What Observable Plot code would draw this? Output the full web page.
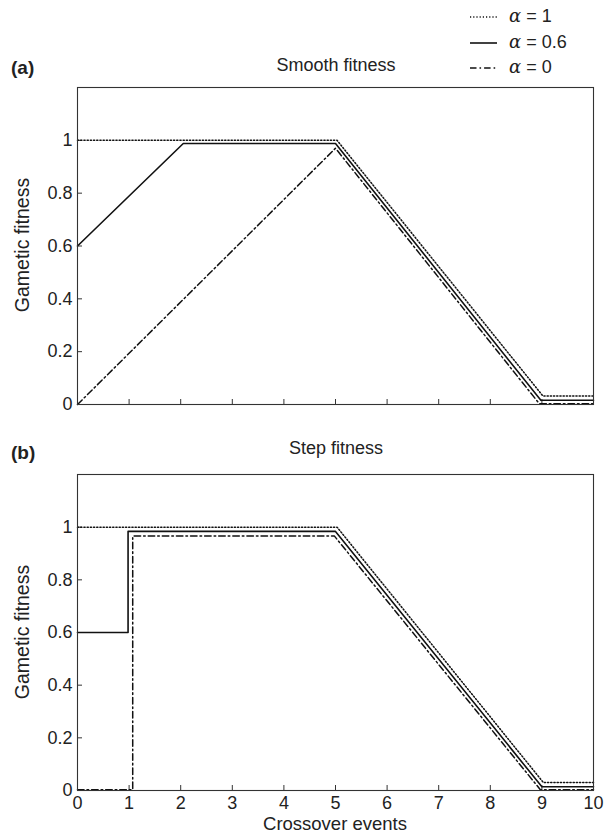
<!DOCTYPE html>
<html><head><meta charset="utf-8">
<script src="https://cdn.jsdelivr.net/npm/d3@7"></script>
<script src="https://cdn.jsdelivr.net/npm/@observablehq/plot@0.6"></script>
<style>
body{margin:0;background:#fff;font-family:"Liberation Sans",Arial,sans-serif;color:#222}
#wrap{position:relative;width:611px;height:837px;overflow:hidden}
.t{position:absolute;font-size:18px;white-space:nowrap;line-height:1}
.plot{position:absolute;left:0}
</style></head><body><div id="wrap"></div>
<script>
// ---- data ----
const xTicks = [0,1,2,3,4,5,6,7,8,9,10];
const yTicks = [0,0.2,0.4,0.6,0.8,1];
const yTickLabels = ["0","0.2","0.4","0.6","0.8","1"];
const seriesNames = ["α = 1","α = 0.6","α = 0"];
const seriesAlpha = ["1","0.6","0"];

// Panel (a) Smooth fitness
const smoothA1X  = [0, 5.03, 9.02, 10];
const smoothA1Y  = [1, 1, 0.032, 0.032];
const smoothA06X = [0, 2.05, 5.0, 8.98, 10];
const smoothA06Y = [0.6, 0.988, 0.988, 0.016, 0.016];
const smoothA0X  = [0, 5.0, 8.95, 10];
const smoothA0Y  = [0, 0.97, 0.003, 0.003];

// Panel (b) Step fitness
const stepA1X  = [0, 5.03, 9.03, 10];
const stepA1Y  = [1, 1, 0.03, 0.03];
const stepA06X = [0, 0.98, 0.98, 5.0, 9.0, 10];
const stepA06Y = [0.6, 0.6, 0.984, 0.984, 0.014, 0.014];
const stepA0X  = [0, 1.07, 1.07, 4.98, 8.97, 10];
const stepA0Y  = [0.003, 0.003, 0.966, 0.966, 0.003, 0.003];

// ---- helpers ----
const styles = {
  "1":   {strokeWidth: 1.5, strokeDasharray: "1.2,2"},
  "0.6": {strokeWidth: 1.6, strokeDasharray: null},
  "0":   {strokeWidth: 1.5, strokeDasharray: "6.5,3,1.6,3"}
};
function rows(xs, ys){ return xs.map((x,i)=>({x, y: ys[i]})); }
const wrap = document.getElementById("wrap");
function addText(txt, x, y, opts={}){
  const d = document.createElement("div");
  d.className = "t";
  d.textContent = txt;
  d.style.left = x + "px"; d.style.top = y + "px";
  Object.assign(d.style, opts);
  wrap.appendChild(d);
  return d;
}

function panel(series, top, height, mTop, mBottom, showXLabels){
  const marks = [
    Plot.axisY({ticks: yTicks, tickSize: -5, fill: "none", stroke: "#333", label: null}),
    Plot.axisY({ticks: yTicks, tickSize: 0, tickPadding: 5, stroke: "none", fill: "#222",
                tickFormat: d => yTickLabels[yTicks.indexOf(d)], label: null}),
    Plot.axisX({ticks: xTicks, tickSize: -5, fill: "none", stroke: "#333", label: null}),
  ];
  if (showXLabels) marks.push(Plot.axisX({ticks: xTicks, tickSize: 0, tickPadding: 6, stroke: "none", fill: "#222", tickFormat: d => String(d), label: null}));
  for (const s of series) {
    marks.push(Plot.line(rows(s.x, s.y), {x: "x", y: "y", stroke: "#111", ...styles[s.a]}));
  }
  marks.push(Plot.frame({stroke: "#333", strokeWidth: 1.1}));
  const svg = Plot.plot({
    width: 611, height, marginTop: mTop, marginBottom: mBottom, marginLeft: 77, marginRight: 18,
    x: {domain: [0, 10]}, y: {domain: [0, 1.2]},
    style: {fontSize: "18px", fontFamily: "Liberation Sans, Arial, sans-serif", color: "#222", background: "transparent"},
    marks
  });
  svg.classList.add("plot");
  svg.style.top = top + "px";
  wrap.appendChild(svg);
}

panel([
  {a: "1", x: smoothA1X, y: smoothA1Y},
  {a: "0.6", x: smoothA06X, y: smoothA06Y},
  {a: "0", x: smoothA0X, y: smoothA0Y}
], 0, 430, 87, 26, false);

panel([
  {a: "1", x: stepA1X, y: stepA1Y},
  {a: "0.6", x: stepA06X, y: stepA06Y},
  {a: "0", x: stepA0X, y: stepA0Y}
], 430, 407, 44, 47, true);

// titles and labels
addText("(a)", 11, 58, {fontWeight: "bold", fontSize: "19px"});
addText("Smooth fitness", 336, 56, {transform: "translateX(-50%)"});
addText("(b)", 11, 443, {fontWeight: "bold", fontSize: "19px"});
addText("Step fitness", 336, 439, {transform: "translateX(-50%)"});
addText("Crossover events", 335, 815, {transform: "translateX(-50%)", fontSize: "18.5px"});
addText("Gametic fitness", 23, 245, {transform: "translate(-50%,-50%) rotate(-90deg)", fontSize: "19.5px"});
addText("Gametic fitness", 23, 632, {transform: "translate(-50%,-50%) rotate(-90deg)", fontSize: "19.5px"});

// legend
const legY = [17, 43, 68];
const ns = "http://www.w3.org/2000/svg";
const lsvg = document.createElementNS(ns, "svg");
lsvg.setAttribute("width", 611); lsvg.setAttribute("height", 80);
lsvg.style.position = "absolute"; lsvg.style.left = "0"; lsvg.style.top = "0";
seriesAlpha.forEach((a, i) => {
  const l = document.createElementNS(ns, "line");
  l.setAttribute("x1", 470); l.setAttribute("x2", 497);
  l.setAttribute("y1", legY[i]); l.setAttribute("y2", legY[i]);
  l.setAttribute("stroke", "#111");
  l.setAttribute("stroke-width", styles[a].strokeWidth);
  if (styles[a].strokeDasharray) l.setAttribute("stroke-dasharray", styles[a].strokeDasharray);
  lsvg.appendChild(l);
  const d = addText("", 509, legY[i] - 10);
  const em = document.createElement("i"); em.textContent = "α";
  em.style.fontFamily = "'DejaVu Serif', serif";
  d.appendChild(em);
  d.appendChild(document.createTextNode(seriesNames[i].slice(1)));
});
wrap.appendChild(lsvg);
</script></body></html>
